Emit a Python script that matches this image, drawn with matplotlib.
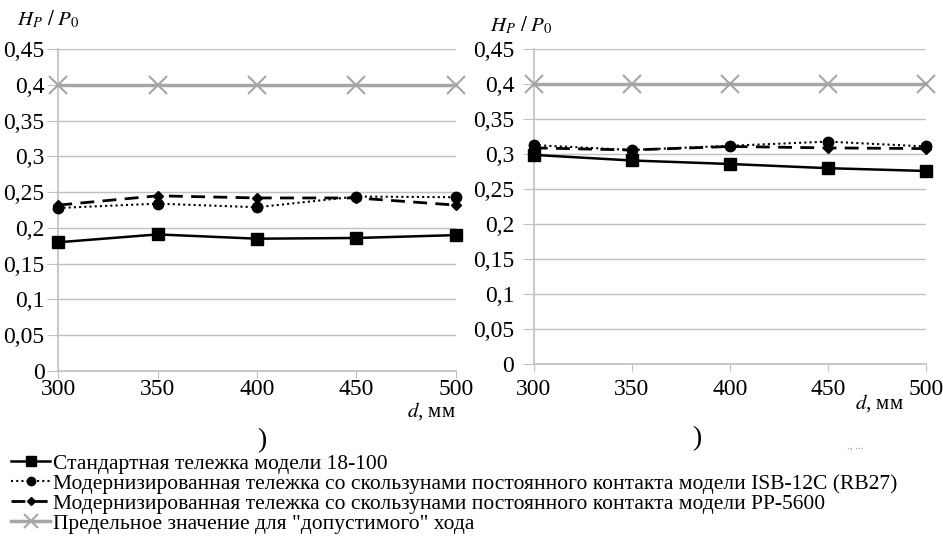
import matplotlib
matplotlib.use("Agg")
import matplotlib.pyplot as plt
from matplotlib.font_manager import FontProperties

plt.rcParams['mathtext.fontset'] = 'stix'
SERIF = 'Liberation Serif'

# data
d_mm = [300, 350, 400, 450, 500]

# left panel
std_a = [0.180, 0.191, 0.185, 0.186, 0.190]
isb_a = [0.228, 0.234, 0.229, 0.244, 0.243]
pp_a = [0.232, 0.245, 0.242, 0.242, 0.232]
lim_a = [0.4, 0.4, 0.4, 0.4, 0.4]

# right panel
std_b = [0.299, 0.291, 0.286, 0.280, 0.276]
isb_b = [0.313, 0.306, 0.312, 0.318, 0.311]
pp_b = [0.309, 0.306, 0.311, 0.309, 0.308]
lim_b = [0.4, 0.4, 0.4, 0.4, 0.4]

y_ticks = [0, 0.05, 0.1, 0.15, 0.2, 0.25, 0.3, 0.35, 0.4, 0.45]
y_labels = ['0', '0,05', '0,1', '0,15', '0,2', '0,25', '0,3', '0,35', '0,4', '0,45']

names = [
    'Стандартная тележка модели 18-100',
    'Модернизированная тележка со скользунами постоянного контакта модели ISB-12C (RB27)',
    'Модернизированная тележка со скользунами постоянного контакта модели PP-5600',
    'Предельное значение для "допустимого" хода',
]

grid_c = '#c0c0c0'
lim_c = '#a6a6a6'

fig = plt.figure(figsize=(9.43, 5.5), dpi=100)
ax1 = fig.add_axes([0.0618, 0.3255, 0.4215, 0.585])
ax2 = fig.add_axes([0.566, 0.3382, 0.4157, 0.5722])


def draw(ax, std, isb, pp, lim, xpad, ypad):
    lines = []
    lines += ax.plot(d_mm, lim, color=lim_c, lw=2.5, marker='x', ms=13, mew=1.5,
                     clip_on=False, zorder=3)
    lines += ax.plot(d_mm, std, color='black', lw=1.8, marker='s', ms=8.5,
                     clip_on=False, zorder=4)
    lines += ax.plot(d_mm, isb, color='black', lw=1.5, ls=(0, (1, 1.5)), marker='o',
                     ms=7.5, clip_on=False, zorder=4)
    lines += ax.plot(d_mm, pp, color='black', lw=2, ls=(0, (5, 3)), marker='D',
                     ms=5, clip_on=False, zorder=4)
    ax.set_xlim(300, 500)
    ax.set_ylim(0, 0.45)
    ax.set_xticks(d_mm)
    ax.set_xticklabels([str(v) for v in d_mm], fontfamily=SERIF, fontsize=17)
    ax.set_yticks(y_ticks)
    ax.set_yticklabels(y_labels, fontfamily=SERIF, fontsize=17)
    ax.yaxis.grid(True, color=grid_c, lw=1)
    ax.set_axisbelow(True)
    for s in ['top', 'right']:
        ax.spines[s].set_visible(False)
    for s in ['left', 'bottom']:
        ax.spines[s].set_color(grid_c)
        ax.spines[s].set_linewidth(1.2)
    ax.tick_params(axis='y', length=8, color=grid_c, pad=ypad)
    ax.tick_params(axis='x', length=5, color=grid_c, pad=xpad)
    return lines


h = draw(ax1, std_a, isb_a, pp_a, lim_a, 1, 2)
draw(ax2, std_b, isb_b, pp_b, lim_b, 6, 6)

# axis captions
ylab = r'$H_P\ /\ P_\mathit{0}$'
fig.text(0.018, 0.965, ylab, fontsize=15, va='center', ha='left')
fig.text(0.52, 0.955, ylab, fontsize=15, va='center', ha='left')
fig.text(0.483, 0.253, r'$d$, мм', fontsize=15, va='center', ha='right', family=SERIF)
fig.text(0.958, 0.268, r'$d$, мм', fontsize=15, va='center', ha='right', family=SERIF)
fig.text(0.278, 0.198, ')', fontsize=20, va='center', ha='center', family=SERIF)
fig.text(0.739, 0.203, ')', fontsize=20, va='center', ha='center', family=SERIF)
fig.text(0.898, 0.19, '., ...', fontsize=8, color='#9a9a9a', va='center', ha='left',
         family=SERIF)

order = [1, 2, 3, 0]
fig.legend([h[i] for i in order], names, loc='upper left',
           bbox_to_anchor=(0.012, 0.175), frameon=False,
           prop=FontProperties(family=SERIF, size=15.5),
           handlelength=1.8, handletextpad=0.15, labelspacing=0.0,
           borderpad=0, borderaxespad=0, numpoints=1, markerscale=0.8)

fig.savefig('out.png', dpi=100)
